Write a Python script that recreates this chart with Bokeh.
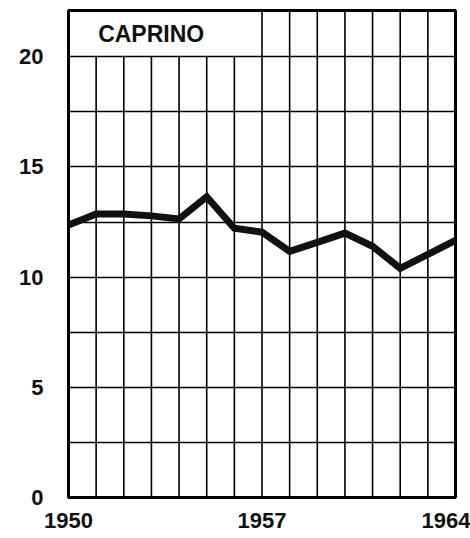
from bokeh.plotting import figure
from bokeh.models import FixedTicker, Label, Range1d
from bokeh.embed import file_html
from bokeh.resources import INLINE

title_text = "CAPRINO"
years = list(range(1950, 1965))
values = [12.36, 12.87, 12.87, 12.78, 12.64, 13.65, 12.22, 12.04,
          11.17, 11.58, 12.0, 11.4, 10.4, 11.03, 11.67]
y_ticks = [0, 5, 10, 15, 20]
y_grid = [2.5, 5, 7.5, 10, 12.5, 15, 17.5, 20]
x_label_years = [1950, 1957, 1964]
x_label_text = ["1950", "1957", "1964"]
y_top = 22.1
title_box_end = 1957

FONT = "Liberation Sans"

p = figure(width=470, height=538, output_backend="svg", toolbar_location=None,
           x_range=Range1d(years[0], years[-1]), y_range=Range1d(0, y_top),
           min_border_left=68, min_border_right=15,
           min_border_top=10, min_border_bottom=41)
p.background_fill_color = "white"
p.border_fill_color = "white"
p.outline_line_color = "black"
p.outline_line_width = 3

# y axis
ax = p.yaxis[0]
ax.ticker = FixedTicker(ticks=y_ticks)
ax.major_label_standoff = 25

# x axis
bx = p.xaxis[0]
bx.ticker = FixedTicker(ticks=x_label_years)
bx.major_label_overrides = {x: t for x, t in zip(x_label_years, x_label_text)}
bx.major_label_standoff = 15

for a in (ax, bx):
    a.axis_line_color = None
    a.major_tick_line_color = None
    a.minor_tick_line_color = None
    a.major_tick_out = 0
    a.major_tick_in = 0
    a.major_label_text_font = FONT
    a.major_label_text_font_style = "bold"
    a.major_label_text_font_size = "22px"
    a.major_label_text_color = "#111111"

# grids
p.xgrid.visible = False
p.ygrid.ticker = FixedTicker(ticks=y_grid)
p.ygrid.grid_line_color = "black"
p.ygrid.grid_line_width = 1.5

tops = [20 if (y > years[0] and y < title_box_end) else y_top for y in years]
p.segment(x0=years, y0=[0] * len(years), x1=years, y1=tops,
          line_color="black", line_width=1.6)

# data line
p.line(years, values, line_color="#111111", line_width=7, line_join="miter")

# title box label
p.add_layout(Label(x=years[1], y=(20 + y_top) / 2, text=title_text,
                   x_offset=2, text_align="left", text_baseline="middle",
                   text_font=FONT, text_font_style="bold",
                   text_font_size="23px", text_color="#111111"))

open("out.html", "w").write(file_html(p, INLINE))
